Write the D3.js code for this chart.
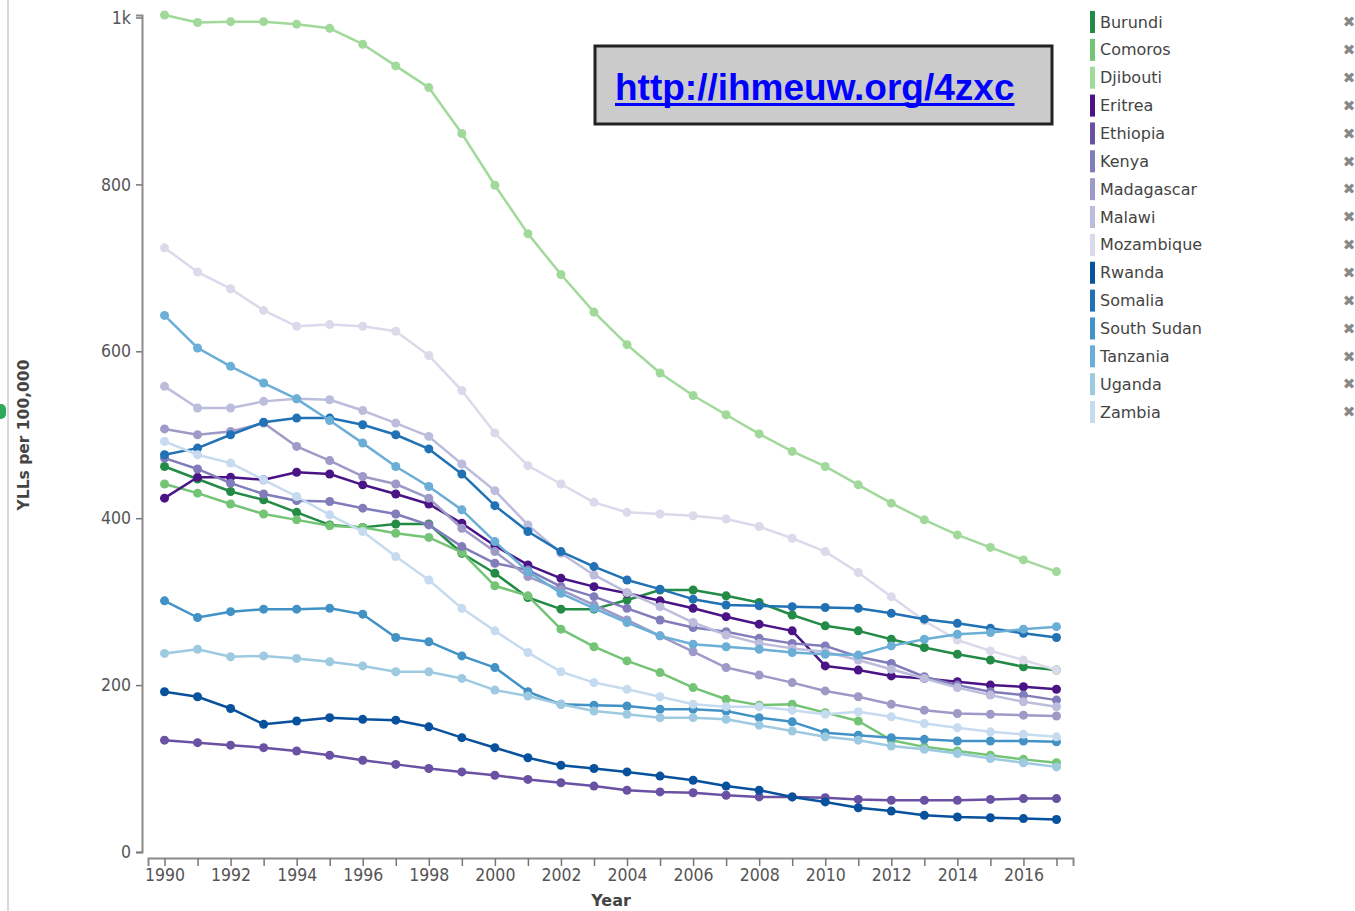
<!DOCTYPE html>
<html>
<head>
<meta charset="utf-8">
<script src="https://cdn.jsdelivr.net/npm/d3@7"></script>
<style>
  html, body { margin: 0; padding: 0; background: #fff; }
  svg { display: block; }
</style>
</head>
<body>
<svg id="chart" width="1355" height="911"></svg>
<script>
const years = d3.range(1990, 2018);
const countries = ["Burundi","Comoros","Djibouti","Eritrea","Ethiopia","Kenya","Madagascar","Malawi","Mozambique","Rwanda","Somalia","South Sudan","Tanzania","Uganda","Zambia"];
const colors = ["#238b45","#74c476","#a1d99b","#4a1486","#6a51a3","#807dba","#9e9ac8","#bcbddc","#dadaeb","#08519c","#2171b5","#4292c6","#6baed6","#9ecae1","#c6dbef"];

const burundi    = [462,447,432,422,407,392,389,393,393,358,334,305,291,291,302,314,314,307,299,284,271,265,255,245,237,230,222,218];
const comoros    = [441,430,417,405,398,391,389,382,377,359,319,307,267,246,229,215,197,183,176,177,167,157,134,126,121,116,111,107];
const djibouti   = [1003,994,995,995,992,987,968,942,916,861,799,741,692,647,608,574,547,524,501,480,462,440,418,398,380,365,350,336];
const eritrea    = [424,449,449,446,455,453,440,429,417,394,367,344,328,318,310,301,292,282,273,265,223,218,211,208,204,200,198,195];
const ethiopia   = [134,131,128,125,121,116,110,105,100,96,92,87,83,79,74,72,71,68,66,66,65,63,62,62,62,63,64,64];
const kenya      = [472,459,442,429,421,420,412,405,392,366,346,338,318,306,292,278,269,264,256,250,247,234,226,210,200,192,188,182];
const madagascar = [507,500,504,514,486,469,450,441,424,388,360,330,314,296,278,259,240,221,212,203,193,186,177,170,166,165,164,163];
const malawi     = [558,532,532,540,543,542,529,514,498,465,433,392,358,332,311,294,275,260,250,244,240,230,219,208,197,188,180,174];
const mozambique = [724,695,675,649,630,632,630,624,595,553,502,463,441,419,407,405,403,399,390,376,360,335,306,277,254,241,230,218];
const rwanda     = [192,186,172,153,157,161,159,158,150,137,125,113,104,100,96,91,86,79,74,66,60,53,49,44,42,41,40,39];
const somalia    = [476,484,500,515,520,520,512,500,483,453,415,384,360,342,326,315,303,296,295,294,293,292,286,279,274,268,262,257];
const southSudan = [301,281,288,291,291,292,285,257,252,235,221,192,177,176,175,171,171,169,161,156,143,140,137,135,133,133,133,132];
const tanzania   = [643,604,582,562,543,517,490,462,438,410,372,336,310,292,275,259,249,246,243,239,237,236,247,255,261,263,267,270];
const uganda     = [238,243,234,235,232,228,223,216,216,208,194,187,177,169,165,161,161,159,152,145,138,134,127,123,118,112,107,102];
const zambia     = [492,476,466,446,426,404,384,354,326,292,265,239,216,203,195,186,177,174,174,170,165,168,162,154,149,144,141,138];

const seriesValues = [burundi,comoros,djibouti,eritrea,ethiopia,kenya,madagascar,malawi,mozambique,rwanda,somalia,southSudan,tanzania,uganda,zambia];
const yTicks = [0,200,400,600,800,1000];
const xTickLabels = d3.range(1990, 2018, 2);
const urlText = "http://ihmeuw.org/4zxc";

const svg = d3.select("#chart");
const x = d3.scaleLinear().domain([1989.5, 2017.5]).range([148, 1073]);
const y = d3.scaleLinear().domain([0, 1003]).range([852, 15]);

// left edge decorations
svg.append("line").attr("x1",8).attr("x2",8).attr("y1",0).attr("y2",911)
  .attr("stroke","#d8d8d8").attr("stroke-width",2);
svg.append("rect").attr("x",-8).attr("y",404).attr("width",14).attr("height",15).attr("rx",5)
  .attr("fill","#2ea85a");

const tickFont = "DejaVu Sans Condensed, DejaVu Sans";

// Y axis
const yAxis = svg.append("g").attr("transform","translate(142,0)")
  .call(d3.axisLeft(y).tickValues(yTicks).tickFormat(d3.format("~s")).tickSize(6).tickSizeOuter(6).tickPadding(5));
yAxis.select(".domain").attr("stroke","#8a8a8a").attr("stroke-width",2);
yAxis.selectAll(".tick line").attr("stroke","#777").attr("stroke-width",1.5);
yAxis.selectAll(".tick text").attr("fill","#555").style("font-family",tickFont).style("font-size","17.5px");

// X axis
const xAxis = svg.append("g").attr("transform","translate(0,858)")
  .call(d3.axisBottom(x).tickValues(years).tickFormat(d => xTickLabels.includes(d) ? d : "").tickSize(8).tickSizeOuter(8).tickPadding(3));
xAxis.select(".domain").attr("stroke","#8a8a8a").attr("stroke-width",2);
xAxis.selectAll(".tick line").attr("stroke","#777").attr("stroke-width",1.5);
xAxis.selectAll(".tick text").attr("fill","#555").style("font-family",tickFont).style("font-size","17.5px");

// Axis titles
svg.append("text").attr("x",611).attr("y",906).attr("text-anchor","middle")
  .style("font-family","DejaVu Sans").style("font-weight","bold").style("font-size","16px")
  .attr("fill","#444").text("Year");
svg.append("text").attr("transform","translate(29,435) rotate(-90)").attr("text-anchor","middle")
  .style("font-family","DejaVu Sans").style("font-weight","bold").style("font-size","15.5px")
  .attr("fill","#444").text("YLLs per 100,000");

// Lines and points
const line = d3.line().x((d,i) => x(years[i])).y(d => y(d));
const g = svg.append("g");
seriesValues.forEach((vals, k) => {
  const sg = g.append("g");
  sg.append("path").datum(vals).attr("d", line).attr("fill","none")
    .attr("stroke", colors[k]).attr("stroke-width",2.5).attr("stroke-linejoin","round");
  sg.selectAll("circle").data(vals).join("circle")
    .attr("cx",(d,i) => x(years[i])).attr("cy", d => y(d)).attr("r",4.5).attr("fill",colors[k]);
});

// Legend
const leg = svg.append("g");
countries.forEach((c, k) => {
  const cy = 22 + k * 27.86;
  leg.append("rect").attr("x",1090).attr("y",cy-11).attr("width",5).attr("height",22).attr("fill",colors[k]);
  leg.append("text").attr("x",1100).attr("y",cy).attr("dy","0.35em")
    .style("font-family","DejaVu Sans").style("font-size","16px").attr("fill","#444").text(c);
  leg.append("text").attr("x",1349).attr("y",cy).attr("dy","0.35em").attr("text-anchor","middle")
    .style("font-family","DejaVu Sans").style("font-weight","bold").style("font-size","15px").attr("fill","#888").text("\u2716");
});

// URL box
svg.append("rect").attr("x",595).attr("y",46).attr("width",457).attr("height",78)
  .attr("fill","#cbcbcb").attr("stroke","#222").attr("stroke-width",3);
const urlT = svg.append("text").attr("x",615).attr("y",100)
  .style("font-family","Liberation Sans, Arial").style("font-weight","bold").style("font-size","37px")
  .attr("fill","#0000ff").text(urlText);
const bb = urlT.node().getBBox();
svg.append("line").attr("x1",bb.x).attr("x2",bb.x+bb.width).attr("y1",104.5).attr("y2",104.5)
  .attr("stroke","#0000ff").attr("stroke-width",3);
</script>
</body>
</html>
